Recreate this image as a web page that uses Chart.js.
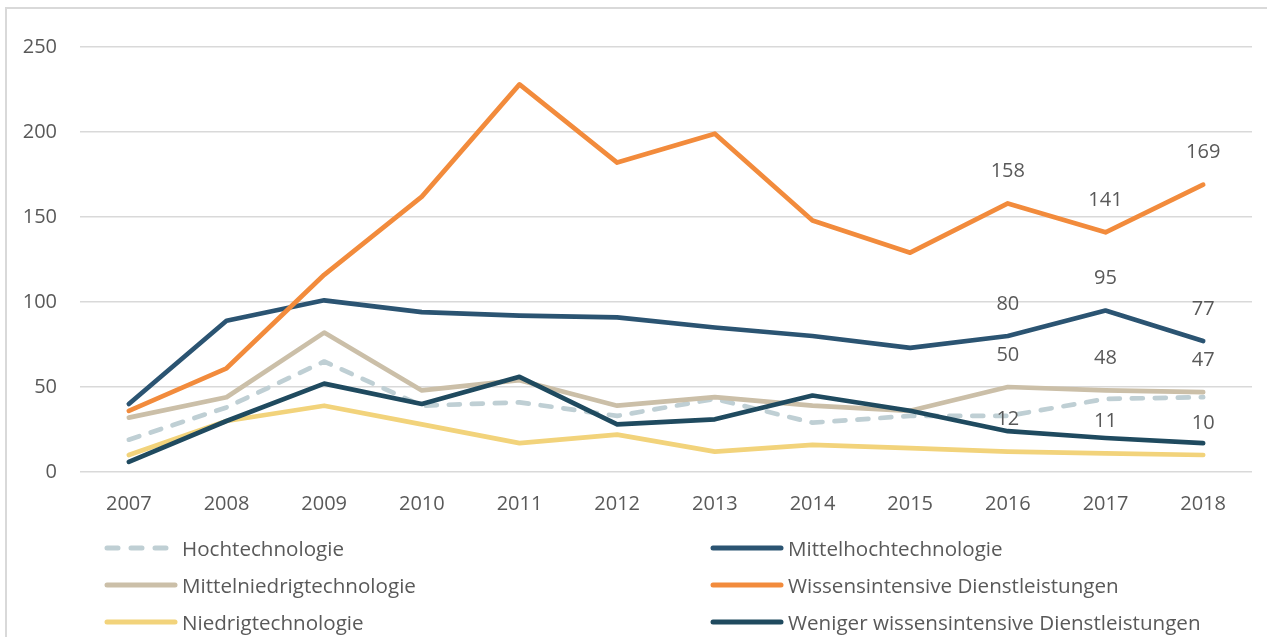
<!DOCTYPE html>
<html>
<head>
<meta charset="utf-8">
<script src="https://cdn.jsdelivr.net/npm/chart.js@4"></script>
<style>
  html, body { margin: 0; padding: 0; background: #fff; }
  body { width: 1267px; height: 637px; position: relative; overflow: hidden; font-family: "Open Sans", sans-serif; }
  #frame { position: absolute; left: 5px; top: 7px; width: 1300px; height: 700px; border: 2px solid #d9d9d9; box-sizing: border-box; }
  #c { position: absolute; left: 0; top: 0; }
  .lg { position: absolute; display: flex; align-items: center; height: 30px; font-size: 20.6px; color: #595959; white-space: nowrap; }
  .lg svg { display: block; margin-right: 3px; }
</style>
</head>
<body>
<div id="frame"></div>
<canvas id="c" width="1267" height="637"></canvas>
<div id="legend"></div>
<script>
const years = ['2007','2008','2009','2010','2011','2012','2013','2014','2015','2016','2017','2018'];
const yTicks = [0, 50, 100, 150, 200, 250];

const hoch          = [19, 38, 65, 39, 41, 33, 43, 29, 33, 33, 43, 44];
const mittelhoch    = [40, 89, 101, 94, 92, 91, 85, 80, 73, 80, 95, 77];
const mittelniedrig = [32, 44, 82, 48, 54, 39, 44, 39, 36, 50, 48, 47];
const wissens       = [36, 61, 116, 162, 228, 182, 199, 148, 129, 158, 141, 169];
const niedrig       = [10, 30, 39, 28, 17, 22, 12, 16, 14, 12, 11, 10];
const weniger       = [6, 30, 52, 40, 56, 28, 31, 45, 36, 24, 20, 17];

const seriesNames = [
  'Hochtechnologie', 'Mittelhochtechnologie', 'Mittelniedrigtechnologie',
  'Wissensintensive Dienstleistungen', 'Niedrigtechnologie', 'Weniger wissensintensive Dienstleistungen'
];
const labelledIdx = [9, 10, 11];

const styles = [
  { color: '#BFCFD4', dash: [11, 12], labels: false },
  { color: '#2B5472', dash: [], labels: true },
  { color: '#CBBFA8', dash: [], labels: true },
  { color: '#F28B3C', dash: [], labels: true },
  { color: '#F2D37B', dash: [], labels: true },
  { color: '#1F4A5F', dash: [], labels: false }
];
const seriesData = [hoch, mittelhoch, mittelniedrig, wissens, niedrig, weniger];

const datasets = seriesData.map((d, i) => ({
  label: seriesNames[i],
  data: d,
  borderColor: styles[i].color,
  backgroundColor: styles[i].color,
  borderWidth: 4.7,
  borderDash: styles[i].dash,
  borderCapStyle: 'round',
  borderJoinStyle: 'round',
  pointRadius: 0,
  pointHoverRadius: 0,
  tension: 0,
  fill: false,
  order: seriesData.length - i,
  showValueLabels: styles[i].labels
}));

const valueLabels = {
  id: 'valueLabels',
  afterDatasetsDraw(chart) {
    const ctx = chart.ctx;
    ctx.save();
    ctx.font = '20px "Open Sans", sans-serif';
    ctx.fillStyle = '#595959';
    ctx.textAlign = 'center';
    ctx.textBaseline = 'middle';
    chart.data.datasets.forEach((ds, i) => {
      if (!ds.showValueLabels) return;
      const meta = chart.getDatasetMeta(i);
      labelledIdx.forEach(idx => {
        const pt = meta.data[idx];
        ctx.fillText(String(ds.data[idx]), pt.x, pt.y - 32);
      });
    });
    ctx.restore();
  }
};

new Chart(document.getElementById('c'), {
  type: 'line',
  data: { labels: years, datasets },
  options: {
    responsive: false,
    animation: false,
    devicePixelRatio: 1,
    layout: { padding: { left: 0, top: 47, right: 15, bottom: 125 } },
    plugins: { legend: { display: false }, tooltip: { enabled: false } },
    scales: {
      x: {
        offset: true,
        grid: { display: false, drawTicks: false },
        border: { display: false },
        ticks: { color: '#595959', font: { family: '"Open Sans", sans-serif', size: 20 }, padding: 20, maxRotation: 0 },
        afterFit(s) { s.height = 40; }
      },
      y: {
        min: 0, max: 250,
        afterBuildTicks(s) { s.ticks = yTicks.map(v => ({ value: v })); },
        grid: { color: '#D9D9D9', lineWidth: 1.5, drawTicks: false },
        border: { display: false },
        ticks: { color: '#595959', font: { family: '"Open Sans", sans-serif', size: 20 }, padding: 23 },
        afterFit(s) { s.width = 80; }
      }
    }
  },
  plugins: [valueLabels]
});

// HTML legend in two columns
const legend = document.getElementById('legend');
const colX = [103, 709];
const rowY = [548, 585, 622];
seriesNames.forEach((name, i) => {
  const col = i % 2, row = Math.floor(i / 2);
  const el = document.createElement('div');
  el.className = 'lg';
  el.style.left = colX[col] + 'px';
  el.style.top = (rowY[row] - 15) + 'px';
  const dash = styles[i].dash.length ? 'stroke-dasharray="11 13"' : '';
  el.innerHTML = '<svg width="76" height="10"><line x1="4" y1="5" x2="72" y2="5" stroke="' + styles[i].color +
    '" stroke-width="5" stroke-linecap="round" ' + dash + '/></svg><span>' + name + '</span>';
  legend.appendChild(el);
});
</script>
</body>
</html>
